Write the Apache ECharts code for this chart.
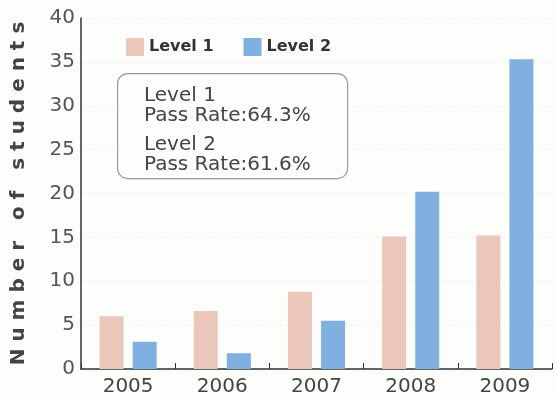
<!DOCTYPE html>
<html>
<head>
<meta charset="utf-8">
<script src="https://cdn.jsdelivr.net/npm/echarts@6/dist/echarts.min.js"></script>
<style>
  html, body { margin: 0; padding: 0; background: #fdfdfb; }
  #chart { width: 555px; height: 398px; }
</style>
</head>
<body>
<div id="chart"></div>
<script>
const years = ['2005', '2006', '2007', '2008', '2009'];
const level1 = [6.0, 6.6, 8.8, 15.1, 15.2];
const level2 = [3.1, 1.8, 5.5, 20.2, 35.3];
const yTicks = [0, 5, 10, 15, 20, 25, 30, 35, 40];
const noteLines = ['Level 1', 'Pass Rate:64.3%', 'Level 2', 'Pass Rate:61.6%'];

const font = '"DejaVu Sans", sans-serif';
const chart = echarts.init(document.getElementById('chart'));

chart.setOption({
  backgroundColor: '#fdfdfb',
  animation: false,
  textStyle: { fontFamily: font },
  grid: { left: 81, right: 3, top: 18, bottom: 29, outerBoundsMode: 'none', containLabel: false },
  legend: {
    data: ['Level 1', 'Level 2'],
    left: 121,
    top: 33,
    icon: 'rect',
    itemWidth: 18,
    itemHeight: 18,
    itemGap: 30,
    textStyle: { fontSize: 16, fontWeight: 'bold', color: '#333', fontFamily: font }
  },
  xAxis: {
    type: 'category',
    data: years,
    axisLine: { lineStyle: { color: '#333', width: 1.5 } },
    axisTick: { show: true, inside: true, length: 6, lineStyle: { color: '#333' } },
    axisLabel: { fontSize: 20, color: '#444', margin: 8 }
  },
  yAxis: {
    type: 'value',
    min: yTicks[0],
    max: yTicks[yTicks.length - 1],
    interval: 5,
    name: 'N u m b e r   o f   s t u d e n t s',
    nameLocation: 'middle',
    nameGap: 52,
    nameTextStyle: { fontSize: 20, fontWeight: 'bold', color: '#444' },
    axisLine: { show: true, lineStyle: { color: '#333', width: 1.5 } },
    axisTick: { show: false },
    axisLabel: { fontSize: 20, color: '#555', margin: 6 },
    splitLine: { show: true, lineStyle: { color: '#f3f3f0', type: 'dashed' } }
  },
  series: [
    {
      name: 'Level 1',
      type: 'bar',
      data: level1,
      barWidth: 24,
      barGap: '38%',
      itemStyle: { color: '#eac6bb' }
    },
    {
      name: 'Level 2',
      type: 'bar',
      data: level2,
      barWidth: 24,
      itemStyle: { color: '#80b0e0' }
    }
  ],
  graphic: [
    {
      type: 'rect',
      z: 100,
      left: 117,
      top: 73,
      shape: { width: 230, height: 105, r: 10 },
      style: { fill: '#fdfdfb', stroke: '#9a9a9a', lineWidth: 1.2 }
    },
    ...noteLines.map((t, i) => ({
      type: 'text',
      z: 101,
      left: 144,
      top: [86, 106, 135, 155][i],
      style: { text: t, fontSize: 20, lineHeight: 20, fill: '#444', fontFamily: font }
    }))
  ]
});
</script>
</body>
</html>
